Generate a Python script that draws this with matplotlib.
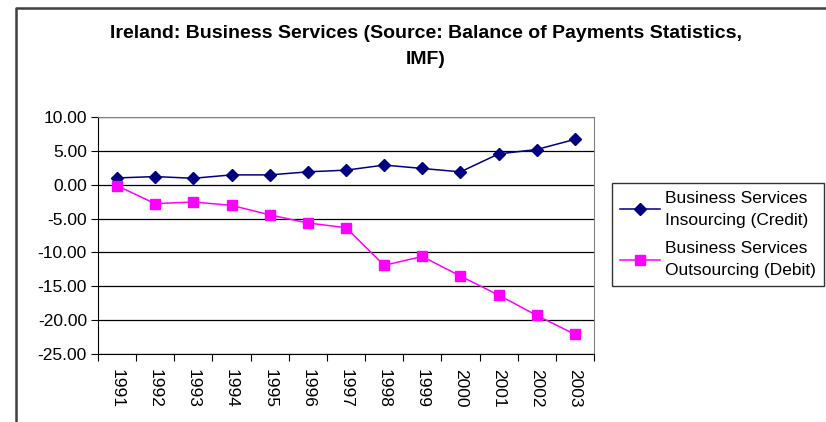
"""Ireland business services, insourcing vs outsourcing (IMF BoP)."""

import matplotlib
matplotlib.use("Agg")
import matplotlib.pyplot as plt
from matplotlib.lines import Line2D
from matplotlib.ticker import FixedLocator

plt.rcParams["font.family"] = ["Liberation Sans", "DejaVu Sans"]

years = ["1991", "1992", "1993", "1994", "1995", "1996", "1997",
         "1998", "1999", "2000", "2001", "2002", "2003"]
credit = [1.0, 1.2, 0.95, 1.45, 1.45, 1.9, 2.15, 2.9, 2.4, 1.9, 4.55, 5.2, 6.7]
debit = [-0.15, -2.8, -2.55, -3.05, -4.45, -5.65, -6.35,
         -11.9, -10.6, -13.5, -16.3, -19.3, -22.1]
yticks = [10, 5, 0, -5, -10, -15, -20, -25]

W, H = 826, 422
FS = 12.5
fig = plt.figure(figsize=(W / 100, H / 100), dpi=100)
ax = fig.add_axes([98 / W, (H - 354) / H, (594 - 98) / W, (354 - 117) / H])

x = list(range(len(years)))
ax.plot(x, credit, color="#000080", marker="D", markersize=6, linewidth=1.1,
        label="Business Services\nInsourcing (Credit)")
ax.plot(x, debit, color="#FF00FF", marker="s", markersize=7, linewidth=1.1,
        label="Business Services\nOutsourcing (Debit)")

ax.set_xlim(-0.5, len(years) - 0.5)
ax.set_ylim(-25, 10)
ax.set_yticks(yticks)
ax.set_yticklabels([f"{v:.2f}" for v in yticks], fontsize=FS)
ax.yaxis.grid(True, color="black", linewidth=0.9)
ax.set_axisbelow(True)

# category ticks between points, labels centred on the points
ax.xaxis.set_major_locator(FixedLocator([i - 0.5 for i in range(len(years) + 1)]))
ax.xaxis.set_major_formatter(plt.NullFormatter())
ax.xaxis.set_minor_locator(FixedLocator(x))
ax.set_xticklabels(years, minor=True, rotation=270, fontsize=FS)
ax.tick_params(axis="x", which="minor", length=0, pad=11)
ax.tick_params(axis="x", which="major", length=5, direction="out", color="black")
ax.tick_params(axis="y", length=5, direction="out", pad=3)

for side in ["top", "right"]:
    ax.spines[side].set_color("#808080")
ax.spines["left"].set_color("black")
ax.spines["bottom"].set_color("black")

fig.text(426 / W, 1 - 33 / H, "Ireland: Business Services (Source: Balance of Payments Statistics,",
         ha="center", va="center", fontsize=14, fontweight="bold")
fig.text(426 / W, 1 - 60 / H, "IMF)", ha="center", va="center",
         fontsize=14, fontweight="bold")

leg = fig.legend(loc="upper left", bbox_to_anchor=(612 / W, 1 - 183 / H),
                 fontsize=FS, frameon=True, fancybox=False, borderpad=0.45,
                 handlelength=2.3, labelspacing=0.75, handletextpad=0.3,
                 borderaxespad=0)
for t in leg.get_texts():
    t.set_linespacing(1.6)
leg.get_frame().set_edgecolor("black")
leg.get_frame().set_linewidth(1.0)

# outer chart border (left and top edges visible)
fig.add_artist(Line2D([16 / W, 16 / W, 1.0], [0.0, 1 - 8 / H, 1 - 8 / H],
                      transform=fig.transFigure, color="#404040", linewidth=1.8))

fig.savefig("out.png", dpi=100)
